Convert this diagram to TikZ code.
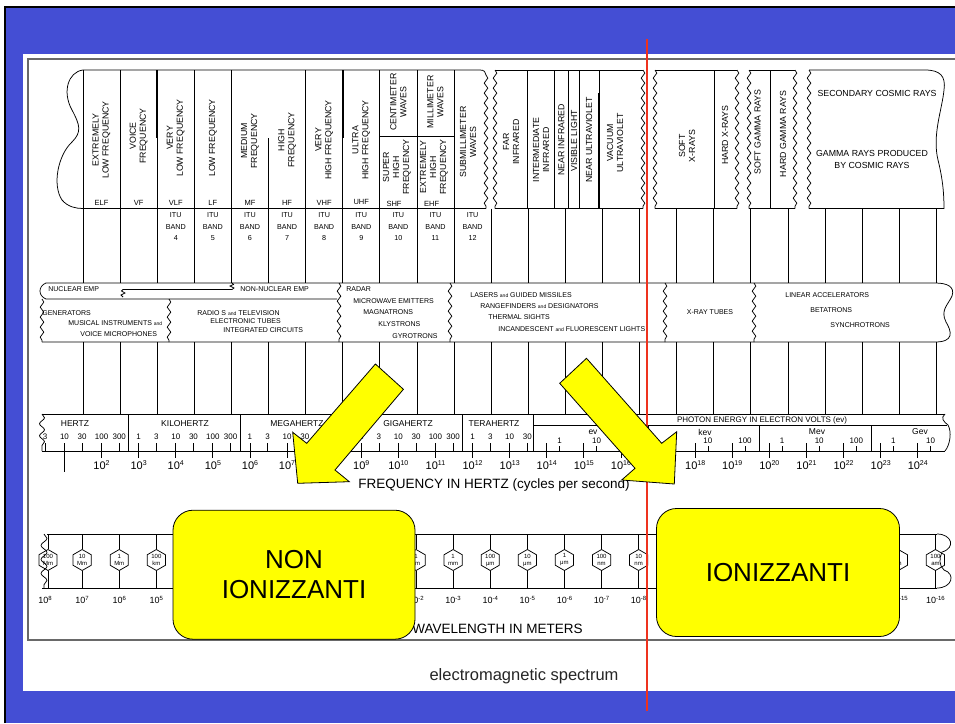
\documentclass[tikz,border=0pt]{standalone}
\usepackage{fontspec}
\setmainfont{Liberation Sans}
\usetikzlibrary{decorations.pathmorphing,shapes.geometric}
\definecolor{bgblue}{RGB}{68,78,212}
\definecolor{ylw}{RGB}{255,255,0}
\definecolor{redl}{RGB}{238,50,30}
\definecolor{framegray}{RGB}{105,105,105}
\newcommand\fsz[2]{\fontsize{#1}{#2}\selectfont}
\newcommand\aand{{\fontsize{5}{5}\selectfont and}}
\begin{document}
\begin{tikzpicture}[x=1pt,y=-1pt,line width=0.75pt,
  wav/.style={decorate,decoration={snake,amplitude=1.8pt,segment length=10pt}},
  vl/.style={rotate=90,font=\fsz{8.8}{10},align=center,inner sep=0pt},
  abbr/.style={font=\fsz{7.5}{8},inner sep=0pt},
  itu/.style={font=\fsz{7.2}{11.5},align=center,inner sep=0pt},
  src/.style={font=\fsz{7}{8},inner sep=0pt,anchor=west},
  hdr/.style={font=\fsz{8.5}{9},inner sep=0pt},
  fnum/.style={font=\fsz{8}{8},inner sep=0pt},
  pw/.style={font=\fsz{11}{11},inner sep=0pt},
  wpw/.style={font=\fsz{9}{9},inner sep=0pt},
  hexa/.style={draw,regular polygon,regular polygon sides=6,shape border rotate=30,minimum size=21pt,inner sep=0pt},
  hexl/.style={font=\fsz{6}{7},align=center,inner sep=0pt},
  ybox/.style={draw=black,fill=ylw,rounded corners=20pt,line width=0.8pt,font=\fsz{26}{30},align=center,inner sep=0pt},
  yarrow/.style={draw=black,fill=ylw,line width=0.8pt,line join=miter},
  axis/.style={font=\fsz{13.5}{14},inner sep=0pt,anchor=west},
]
% ---------- background ----------
\useasboundingbox (0,0) rectangle (955,723);
\fill[white] (0,0) rectangle (955,723);
\fill[bgblue] (5,7) rectangle (955,723);
\draw[black,line width=1.6pt] (5,723) -- (5,7) -- (955,7);
\fill[white] (23,54) rectangle (955,691);
\draw[framegray,line width=1.2pt] (955,59) -- (28,59) -- (28,640) -- (955,640);

% ---------- top band: section 1 ----------
\draw (83,70) -- (480,70) .. controls (484,70) and (486,72) .. (486,75);
\draw[wav] (486,75) -- (486,208.5);
\draw (83,208.5) -- (486,208.5);
\draw (83,70) .. controls (68,72) and (62,92) .. (72,110) .. controls (80,125) and (82,132) .. (72,142) .. controls (58,155) and (52,185) .. (62,200) .. controls (68,207) and (76,208.5) .. (83,208.5);
\foreach \k in {0,1,2,3,4,6,7,8,9,10} \draw ({83+37.1*\k},70) -- ({83+37.1*\k},208.5);
\draw ({83+37.1*5},138) -- ({83+37.1*5},208.5);
\draw[line width=2pt] (157.2,70) -- (157.2,138);
\draw[line width=2pt] (342.7,70) -- (342.7,138);
\draw (379.8,136) -- (454,136);
\node[vl] (elf) at (101.55,140) {EXTREMELY\\LOW FREQUENCY};
\node[vl] (vf) at (138.65,136) {VOICE\\FREQUENCY};
\node[vl] (vlf) at (175.75,138) {VERY\\LOW FREQUENCY};
\node[vl] (lf) at (212.85,138) {LOW FREQUENCY};
\node[vl] (mf) at (249.95,141) {MEDIUM\\FREQUENCY};
\node[vl] (hf) at (287.05,140) {HIGH\\FREQUENCY};
\node[vl] (vhf) at (324.15,140) {VERY\\HIGH FREQUENCY};
\node[vl] (uhf) at (361.25,140) {ULTRA\\HIGH FREQUENCY};
\node[vl] (cmw) at (398.35,102) {CENTIMETER\\WAVES};
\node[vl] (mmw) at (435.45,102) {MILLIMETER\\WAVES};
\node[vl] (shf) at (397,167) {SUPER\\HIGH\\FREQUENCY};
\node[vl] (ehf) at (434,167) {EXTREMELY\\HIGH\\FREQUENCY};
\node[vl] (submm) at (468,142) {SUBMILLIMETER\\WAVES};
\foreach \k/\t in {0/ELF,1/VF,2/VLF,3/LF,4/MF,5/HF,6/VHF} \node[abbr] at ({101.55+37.1*\k},203) {\t};
\node[abbr] at (361.25,202) {UHF};
\node[abbr] at (394,203.5) {SHF};
\node[abbr] at (431.7,203.5) {EHF};
\foreach \k/\b in {2/4,3/5,4/6,5/7,6/8,7/9,8/10,9/11,10/12} \node[itu] at ({101.55+37.1*\k},227) {ITU\\BAND\\\b};

% ---------- top band: section 2 (infrared / light) ----------
\draw (495,70) -- (643,70);
\draw (495,208.5) -- (643,208.5);
\draw[wav] (495,70) -- (495,208.5);
\draw[wav] (643,70) -- (643,208.5);
\foreach \x in {527,554,568.7,579.3} \draw (\x,70) -- (\x,208.5);
\draw (599.3,70) -- (599.3,93);
\draw[line width=2pt] (599.3,93) -- (599.3,208.5);
\node[vl] (far) at (511,142) {FAR\\INFRARED};
\node[vl] (mid) at (541,150) {INTERMEDIATE\\INFRARED};
\node[vl] (nir) at (561.3,140) {NEAR INFRARED};
\node[vl] (vis) at (574,141) {VISIBLE LIGHT};
\node[vl] (nuv) at (589,140) {NEAR ULTRAVIOLET};
\node[vl] (vuv) at (615,143) {VACUUM\\ULTRAVIOLET};

% ---------- section 3 (x-rays) ----------
\draw (655,70) -- (737,70);
\draw (655,208.5) -- (737,208.5);
\draw[wav] (655,70) -- (655,208.5);
\draw[wav] (737,70) -- (737,208.5);
\draw (714,70) -- (714,208.5);
\node[vl] (sxr) at (687,146) {SOFT\\X-RAYS};
\node[vl] (hxr) at (725,135) {HARD X-RAYS};

% ---------- section 4 (gamma) ----------
\draw (749,70) -- (795,70);
\draw (749,208.5) -- (795,208.5);
\draw[wav] (749,70) -- (749,208.5);
\draw[wav] (795,70) -- (795,208.5);
\draw (770,70) -- (770,208.5);
\node[vl] (sgr) at (757.5,132) {SOFT GAMMA RAYS};
\node[vl] (hgr) at (783,134) {HARD GAMMA RAYS};

% ---------- section 5 (cosmic) ----------
\draw (809,70) -- (925,70) .. controls (940,70) and (946,76) .. (944,90) .. controls (942,110) and (932,135) .. (938,160) .. controls (943,180) and (944,195) .. (944,208.5) -- (809,208.5);
\draw[wav] (809,70) -- (809,208.5);
\node[font=\fsz{8.8}{10},inner sep=0pt] (scr) at (877,93) {SECONDARY COSMIC RAYS};
\node[font=\fsz{8.8}{12},align=center,inner sep=0pt] (gcr) at (872,159) {GAMMA RAYS PRODUCED\\BY COSMIC RAYS};

% ---------- grid lines between bands ----------
\foreach \k in {0,...,23} {
  \draw ({83+37.1*\k},208.5) -- ({83+37.1*\k},283);
  \draw ({83+37.1*\k},342) -- ({83+37.1*\k},414);
}

% ---------- sources band ----------
\draw (46,283) -- (935,283) .. controls (948,283) and (955,287) .. (952,296) .. controls (948,305) and (940,310) .. (946,322) .. controls (952,332) and (954,342) .. (935,342) -- (42,342);
\draw (46,283) .. controls (38,286) and (38,296) .. (46,299) -- (337,299);
\draw[wav] (42,299) -- (42,342);
\draw[wav] (169,299) -- (169,342);
\draw[wav] (339,283) -- (339,342);
\draw[wav] (450,283) -- (450,342);
\draw[wav] (665,283) -- (665,342);
\draw[wav] (754,283) -- (754,342);
\draw (123,297) -- (121,295) -- (125,293) -- (121.5,291) -- (123,289.5) -- (232,289.5) -- (234,288) -- (230,286) -- (233.5,284.5) -- (232,283);
\node[src] (nemp) at (48,289.5) {NUCLEAR EMP};
\node[src] (nnemp) at (240,289.5) {NON-NUCLEAR EMP};
\node[src] (gen) at (42,312.7) {GENERATORS};
\node[src] (mus) at (68,323.3) {MUSICAL INSTRUMENTS \aand};
\node[src] (voice) at (80,334.3) {VOICE MICROPHONES};
\node[src] (radio) at (197,313.3) {RADIO S \aand\ TELEVISION};
\node[src] (tubes) at (210,321.5) {ELECTRONIC TUBES};
\node[src] (ic) at (223,330) {INTEGRATED CIRCUITS};
\node[src] (radar) at (346,289.3) {RADAR};
\node[src] (mwe) at (353,300.7) {MICROWAVE EMITTERS};
\node[src] (magn) at (363,312.3) {MAGNATRONS};
\node[src] (kly) at (378,324.3) {KLYSTRONS};
\node[src] (gyro) at (392,335.7) {GYROTRONS};
\node[src] (laser) at (470,295) {LASERS \aand\ GUIDED MISSILES};
\node[src] (range) at (480,306) {RANGEFINDERS \aand\ DESIGNATORS};
\node[src] (therm) at (488,317.3) {THERMAL SIGHTS};
\node[src] (incand) at (498,329) {INCANDESCENT \aand\ FLUORESCENT LIGHTS};
\node[src,anchor=center] (xrt) at (710,311.7) {X-RAY TUBES};
\node[src] (linac) at (785,295) {LINEAR ACCELERATORS};
\node[src] (beta) at (810,310) {BETATRONS};
\node[src] (sync) at (830,325) {SYNCHROTRONS};

% ---------- frequency band ----------
\draw (42,414) -- (945,414);
\draw (42,451) -- (945,451);
\draw[decorate,decoration={snake,amplitude=2.5pt,segment length=12pt}] (42,414) -- (42,451);
\draw (945,414) .. controls (940,418) and (944,422) .. (948,425) .. controls (952,432) and (950,445) .. (945,451);
\draw (533,425) -- (947,425);
\foreach \x in {128,240,351,462,533} \draw (\x,414) -- (\x,451);
\foreach \x in {648,759,871} \draw (\x,425) -- (\x,451);
\node[hdr] (hz) at (75,424) {HERTZ};
\node[hdr] (khz) at (185,424) {KILOHERTZ};
\node[hdr] (mhz) at (297,424) {MEGAHERTZ};
\node[hdr] (ghz) at (408,424) {GIGAHERTZ};
\node[hdr] (thz) at (494,424) {TERAHERTZ};
\node[font=\fsz{8}{8},inner sep=0pt] (phot) at (762,420) {PHOTON ENERGY IN ELECTRON VOLTS (ev)};
\node[hdr] (ev) at (593,432) {ev};
\node[hdr] (kev) at (705,432) {kev};
\node[hdr] (mev) at (817,432) {Mev};
\node[hdr] (gev) at (920,432) {Gev};
\foreach \L/\t in {0.477/3,1/10,1.477/30,2/100,2.477/300,3/1,3.477/3,4/10,4.477/30,5/100,5.477/300,6/1,6.477/3,7/10,7.477/30,8/100,8.477/300,9/1,9.477/3,10/10,10.477/30,11/100,11.477/300,12/1,12.477/3,13/10,13.477/30} {
  \node[fnum] at ({27.35+37.1*\L},437) {\t};
  \draw ({27.35+37.1*\L},443) -- ({27.35+37.1*\L},451);
}
\foreach \k/\t in {0/1,1/10,2/100,3/1,4/10,5/100,6/1,7/10,8/100,9/1,10/10} {
  \node[fnum] at ({559.5+37.1*\k},441) {\t};
  \draw ({559.5+37.1*\k},446) -- ({559.5+37.1*\k},451);
}
\foreach \n in {2,...,24} {
  \draw ({27.35+37.1*\n},443) -- ({27.35+37.1*\n},458);
  \node[pw] at ({27.35+37.1*\n},465) {10\raisebox{4pt}{\fsz{7}{7}\n}};
}
\draw (64.45,450) -- (64.45,472);
\node[axis] (faxis) at (358,485) {FREQUENCY IN HERTZ (cycles per second)};

% ---------- wavelength band ----------
\draw (47,534) -- (937,534);
\draw (42,588) -- (937,588);
\draw[decorate,decoration={snake,amplitude=3pt,segment length=14pt}] (44,534) -- (44,588);
\draw (937,534) .. controls (952,534) and (956,548) .. (942,552) .. controls (939,558) and (939,566) .. (944,570) .. controls (956,574) and (952,588) .. (937,588);
% hexagons hidden behind the two yellow boxes are left out
\foreach \n/\a/\b [count=\i] in {8/100/Mm,7/10/Mm,6/1/Mm,5/100/km,-2/1/cm,-3/1/mm,-4/100/μm,-5/10/μm,-6/1/μm,-7/100/nm,-8/10/nm,-15/1/fm,-16/100/am} {
  \pgfmathsetmacro\hx{max(48,101.55+37.1*(6.477-(\n)))}
  \node[hexa] (hex\i) at (\hx,560) {};
  \node[hexl] at (hex\i) {\a\\\b};
  \draw (\hx,534) -- (hex\i.north);
  \draw (hex\i.south) -- (\hx,588);
  \pgfmathsetmacro\lx{101.55+37.1*(6.477-(\n))}
  \node[wpw] at (\lx,600) {10\raisebox{3.5pt}{\fsz{6}{6}\n}};
}
\node[axis] (waxis) at (412,629) {WAVELENGTH IN METERS};

% ---------- overlays ----------
\draw[redl,line width=2.6pt] (647,39) -- (647,711);
\filldraw[yarrow] (375.4,364) -- (403.4,389.3) -- (335,470) -- (349.3,481.7) -- (297.7,483.3) -- (292.7,432.3) -- (306.7,443.3) -- cycle;
\filldraw[yarrow] (586.5,358.3) -- (661.7,443.3) -- (676.7,431.7) -- (674.3,484) -- (621.7,480) -- (635,468.3) -- (559.7,383.3) -- cycle;
\node[ybox,minimum width=242pt,minimum height=129pt] (nonion) at (294,574.7) {NON\\IONIZZANTI};
\node[ybox,minimum width=243pt,minimum height=128pt] (ion) at (778,572.5) {IONIZZANTI};
\node[font=\fsz{16.5}{17},text=black!85,inner sep=0pt] (cap) at (524,676) {electromagnetic spectrum};
\end{tikzpicture}
\end{document}
